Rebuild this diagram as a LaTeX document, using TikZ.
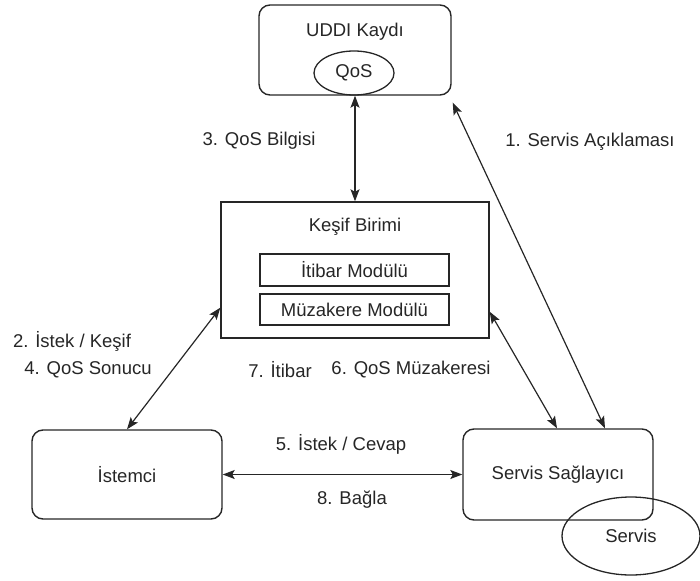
\documentclass[tikz,border=0pt]{standalone}
\usepackage{fontspec}
\setmainfont{Liberation Sans}
\usetikzlibrary{arrows.meta,shapes.geometric}
\definecolor{ink}{HTML}{262626}
\begin{document}
\begin{tikzpicture}[x=1pt,y=-1pt,
  font=\fontsize{18.5}{22}\selectfont,
  every node/.style={text=ink},
  rbox/.style={draw=ink,line width=1.4pt,rounded corners=11pt,inner sep=0pt},
  sbox/.style={draw=ink,line width=1.4pt,inner sep=0pt},
  oval/.style={draw=ink,line width=1.3pt,ellipse,inner sep=0pt},
  lbl/.style={inner sep=0pt},
  tip/.style={Stealth[length=12pt,width=9pt,inset=2.5pt]},
  link/.style={draw=ink,line width=1.2pt,{Stealth[length=12pt,width=9pt,inset=2.5pt]}-{Stealth[length=12pt,width=9pt,inset=2.5pt]}}]
\useasboundingbox (0,0) rectangle (700,580);

% registry with its QoS record
\node[rbox,minimum width=192pt,minimum height=90pt] (uddi) at (355,50) {};
\node[lbl] (uddititle) at (355,32) {UDDI Kaydı};
\node[oval,minimum width=80pt,minimum height=44pt] (qos) at (354,73) {QoS};

% discovery unit with its two modules
\node[sbox,minimum width=268pt,minimum height=136pt] (kesif) at (355,270) {};
\node[lbl] (kesiftitle) at (355,227) {Keşif Birimi};
\node[sbox,minimum width=189pt,minimum height=32pt] (itibar) at (354.5,270) {İtibar Modülü};
\node[sbox,minimum width=189pt,minimum height=31pt] (muzakere) at (354.5,309.5) {Müzakere Modülü};

% client and provider
\node[rbox,minimum width=190pt,minimum height=89pt] (istemci) at (127,474.5) {İstemci};
\node[rbox,minimum width=190pt,minimum height=91pt] (sagl) at (558,474.5) {Servis Sağlayıcı};
\node[oval,minimum width=138pt,minimum height=78pt] (servis) at (631,536) {Servis};

% connectors
\draw[link] (uddi.south) -- (kesif.north);
\draw[link] ([yshift=31pt]kesif.south west) -- (istemci.north);
\draw[link] ([yshift=27pt]kesif.south east) -- ([xshift=-1pt]sagl.north);
\draw[link] ([xshift=1pt,yshift=-7pt]uddi.south east) -- ([xshift=47pt]sagl.north);
\draw[link] (istemci.east) -- (sagl.west);

% connector labels
\node[lbl] (l3) at (259,141) {3. QoS Bilgisi};
\node[lbl] (l1) at (590,142) {1. Servis Açıklaması};
\node[lbl] (l2) at (72,341) {2. İstek / Keşif};
\node[lbl] (l4) at (88,370) {4. QoS Sonucu};
\node[lbl] (l7) at (280,370) {7. İtibar};
\node[lbl] (l6) at (411,370) {6. QoS Müzakeresi};
\node[lbl] (l5) at (341,444) {5. İstek / Cevap};
\node[lbl] (l8) at (352,500) {8. Bağla};
\end{tikzpicture}
\end{document}
